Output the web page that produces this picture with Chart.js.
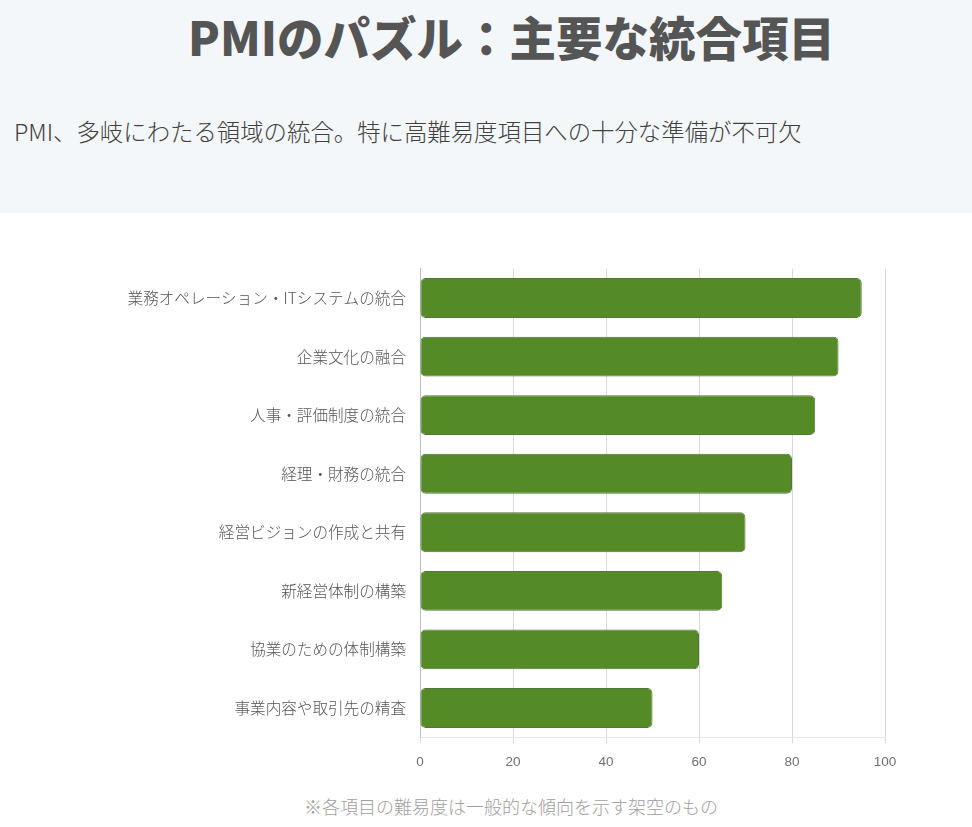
<!DOCTYPE html>
<html lang="ja">
<head>
<meta charset="UTF-8">
<title>PMIのパズル：主要な統合項目</title>
<script src="https://cdn.jsdelivr.net/npm/chart.js@4.4.1/dist/chart.umd.min.js"></script>
<style>
    html, body {
        margin: 0;
        padding: 0;
        width: 972px;
        height: 827px;
        background: #ffffff;
        overflow: hidden;
        font-family: "Noto Sans CJK JP", "Noto Sans", sans-serif;
    }
    .header {
        position: absolute;
        left: 0;
        top: 0;
        width: 972px;
        height: 213px;
        background: #f4f7fa;
    }
    .title {
        position: absolute;
        left: 188px;
        top: 6px;
        text-align: left;
        font-size: 46.5px;
        font-weight: 900;
        color: #555555;
        line-height: 60px;
        margin: 0;
        white-space: nowrap;
    }
    .subtitle {
        position: absolute;
        left: 14px;
        top: 115px;
        font-size: 23.4px;
        font-weight: 300;
        color: #404040;
        line-height: 32px;
        white-space: nowrap;
    }
    .chart-box {
        position: absolute;
        left: 0;
        top: 240px;
        width: 972px;
        height: 550px;
    }
    .note {
        position: absolute;
        left: 304px;
        top: 794px;
        font-size: 18px;
        font-weight: 300;
        color: #a0a0a0;
        line-height: 24px;
        white-space: nowrap;
    }
</style>
</head>
<body>
<div class="header">
    <h1 class="title">PMIのパズル：主要な統合項目</h1>
    <div class="subtitle">PMI、多岐にわたる領域の統合。特に高難易度項目への十分な準備が不可欠</div>
</div>
<div class="chart-box">
    <canvas id="pmiChart"></canvas>
</div>
<div class="note">※各項目の難易度は一般的な傾向を示す架空のもの</div>

<script>
// Data
const categories = [
    '業務オペレーション・ITシステムの統合',
    '企業文化の融合',
    '人事・評価制度の統合',
    '経理・財務の統合',
    '経営ビジョンの作成と共有',
    '新経営体制の構築',
    '協業のための体制構築',
    '事業内容や取引先の精査'
];
const difficulty = [95, 90, 85, 80, 70, 65, 60, 50];
const xTicks = [0, 20, 40, 60, 80, 100];

document.addEventListener('DOMContentLoaded', function() {
    Chart.defaults.font.family = "'Liberation Sans', 'Noto Sans CJK JP', sans-serif";
    Chart.defaults.color = '#666666';

    const ctx = document.getElementById('pmiChart');

    new Chart(ctx, {
        type: 'bar',
        data: {
            labels: categories,
            datasets: [{
                label: '難易度',
                data: difficulty,
                backgroundColor: '#558b27',
                borderColor: '#56723f',
                borderWidth: 1,
                borderRadius: 5,
                borderSkipped: false,
                barPercentage: 0.85,
                categoryPercentage: 0.8
            }]
        },
        options: {
            indexAxis: 'y',
            responsive: true,
            maintainAspectRatio: false,
            animation: false,
            layout: {
                padding: { top: 28.7, right: 87, bottom: 0, left: 0 }
            },
            plugins: {
                legend: { display: false }
            },
            scales: {
                x: {
                    min: 0,
                    max: 100,
                    afterBuildTicks: function(scale) {
                        scale.ticks = xTicks.map(v => ({ value: v }));
                    },
                    afterFit: function(scale) {
                        scale.height = 52.7;
                    },
                    grid: {
                        color: '#d9d9d9',
                        tickLength: 6
                    },
                    border: {
                        color: '#e6e6e6'
                    },
                    ticks: {
                        padding: 11,
                        font: { size: 13.5 },
                        color: '#707070'
                    }
                },
                y: {
                    afterFit: function(scale) {
                        scale.width = 420;
                    },
                    grid: {
                        display: false
                    },
                    border: {
                        display: true,
                        color: '#c0c0c0'
                    },
                    ticks: {
                        padding: 6,
                        font: { size: 15.6, family: "'Noto Sans CJK JP', sans-serif", weight: 300 },
                        color: '#555555'
                    }
                }
            }
        }
    });
});
</script>
</body>
</html>
